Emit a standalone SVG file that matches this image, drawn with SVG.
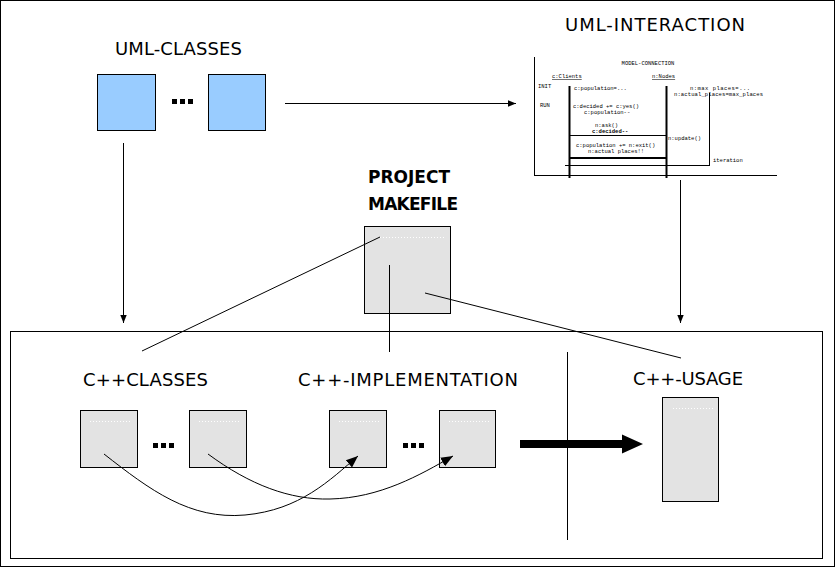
<svg xmlns="http://www.w3.org/2000/svg" width="836" height="568" viewBox="0 0 836 568">
<style>
.lbl{font-family:"DejaVu Sans","Open Sans",sans-serif;font-size:18px;fill:#000}
.bold{font-weight:bold;font-size:17px}
.blue{fill:#99ccff;stroke:#000;stroke-width:1}
.gray{fill:#e3e3e3;stroke:#000;stroke-width:1}
.ln{stroke:#000;stroke-width:1;fill:none}
.dots{stroke:#fff;stroke-width:1;stroke-dasharray:1 2}
.t{font-family:"Liberation Mono",monospace;font-size:5.5px;fill:#000}
.ell{fill:#000}
</style>
<defs>
<marker id="ah" viewBox="0 0 10 10" refX="10" refY="5" markerWidth="8" markerHeight="8" markerUnits="userSpaceOnUse" orient="auto">
<path d="M0,1 L10,5 L0,9 z" fill="#000"/>
</marker>
<marker id="ah2" viewBox="0 0 10 10" refX="10" refY="5" markerWidth="12" markerHeight="12" markerUnits="userSpaceOnUse" orient="auto">
<path d="M0,1 L10,5 L0,9 z" fill="#000"/>
</marker>
</defs>
<rect x="0.5" y="0.5" width="834" height="566" fill="#fff" stroke="#000"/>
<rect id="cpp-frame" x="10.5" y="331.5" width="812" height="227" fill="none" stroke="#000"/>
<line x1="567.5" y1="352" x2="567.5" y2="540" class="ln"/>

<g id="uml-classes">
<text class="lbl" x="115" y="55" textLength="127">UML-CLASSES</text>
<rect class="blue" x="97.5" y="74.5" width="58" height="56"/>
<rect class="blue" x="208.5" y="74.5" width="57" height="56"/>
<rect class="ell" x="172" y="99" width="5" height="5"/><rect class="ell" x="180" y="99" width="5" height="5"/><rect class="ell" x="188" y="99" width="5" height="5"/>
</g>

<g id="uml-interaction">
<text class="lbl" x="565" y="31" textLength="180">UML-INTERACTION</text>
<line x1="534.5" y1="57" x2="534.5" y2="176" class="ln"/>
<line x1="534" y1="175.5" x2="777" y2="175.5" class="ln"/>
<text class="t" x="648" y="65" text-anchor="middle">MODEL-CONNECTION</text>
<text class="t" x="552" y="78" text-decoration="underline">c:Clients</text>
<text class="t" x="652" y="78" text-decoration="underline">n:Nodes</text>
<text class="t" x="538" y="88">INIT</text>
<text class="t" x="540" y="107">RUN</text>
<line x1="569.5" y1="86" x2="569.5" y2="178" stroke="#000" stroke-width="2"/>
<line x1="666.5" y1="86" x2="666.5" y2="178" stroke="#000" stroke-width="2"/>
<line x1="709.5" y1="93" x2="709.5" y2="165" class="ln"/>
<text class="t" x="574" y="90">c:population=...</text>
<text class="t" x="690" y="90" textLength="60">n:max places=...</text>
<text class="t" x="674" y="96" textLength="89">n:actual_places=max_places</text>
<text class="t" x="573" y="108">c:decided += c:yes()</text>
<text class="t" x="584" y="114">c:population--</text>
<text class="t" x="595" y="127">n:ask()</text>
<text class="t" x="592" y="133" font-weight="bold">c:decided--</text>
<line x1="569" y1="135.5" x2="666" y2="135.5" class="ln"/>
<text class="t" x="668" y="140">n:update()</text>
<text class="t" x="576" y="147">c:population += n:exit()</text>
<text class="t" x="588" y="153">n:actual places!!</text>
<line x1="569" y1="158" x2="666" y2="158" stroke="#000" stroke-width="2"/>
<line x1="565" y1="165.5" x2="710" y2="165.5" class="ln"/>
<text class="t" x="713" y="162">iteration</text>
</g>

<g id="project-makefile">
<text class="lbl bold" x="368" y="183" textLength="82">PROJECT</text>
<text class="lbl bold" x="368" y="210" textLength="90">MAKEFILE</text>
<rect class="gray" x="364.5" y="226.5" width="86" height="87"/>
<line x1="380" y1="237.5" x2="446" y2="237.5" class="dots"/>
</g>

<g id="cpp-classes">
<text class="lbl" x="83" y="386" textLength="125">C++CLASSES</text>
<rect class="gray" x="80.5" y="410.5" width="57" height="57"/>
<line x1="90" y1="421.5" x2="132" y2="421.5" class="dots"/>
<rect class="gray" x="189.5" y="410.5" width="57" height="57"/>
<line x1="199" y1="421.5" x2="241" y2="421.5" class="dots"/>
<rect class="ell" x="153" y="443" width="5" height="5"/><rect class="ell" x="161" y="443" width="5" height="5"/><rect class="ell" x="169" y="443" width="5" height="5"/>
</g>

<g id="cpp-implementation">
<text class="lbl" x="298" y="386" textLength="220">C++-IMPLEMENTATION</text>
<rect class="gray" x="329.5" y="410.5" width="57" height="57"/>
<line x1="339" y1="421.5" x2="381" y2="421.5" class="dots"/>
<rect class="gray" x="439.5" y="410.5" width="56" height="57"/>
<line x1="449" y1="421.5" x2="490" y2="421.5" class="dots"/>
<rect class="ell" x="403" y="443" width="5" height="5"/><rect class="ell" x="411" y="443" width="5" height="5"/><rect class="ell" x="419" y="443" width="5" height="5"/>
</g>

<g id="cpp-usage">
<text class="lbl" x="633" y="385" textLength="110">C++-USAGE</text>
<rect class="gray" x="662.5" y="397.5" width="56" height="104"/>
<line x1="673" y1="408.5" x2="714" y2="408.5" class="dots"/>
</g>

<g id="connectors">
<line x1="285" y1="103.5" x2="516" y2="103.5" class="ln" marker-end="url(#ah)"/>
<line x1="123.5" y1="143" x2="123.5" y2="323" class="ln" marker-end="url(#ah)"/>
<line x1="680.5" y1="180" x2="680.5" y2="323" class="ln" marker-end="url(#ah)"/>
<line x1="380" y1="237" x2="142" y2="351" class="ln"/>
<line x1="389.5" y1="265" x2="389.5" y2="352" class="ln"/>
<line x1="425" y1="293" x2="681" y2="358" class="ln"/>
<path d="M104,454 C150,490 190,520 245,515 C300,510 330,480 358,456" class="ln" marker-end="url(#ah2)"/>
<path d="M208,454 C250,485 290,500 330,499 C380,498 420,475 453,456" class="ln" marker-end="url(#ah2)"/>
<path d="M520,440 H622 V434.5 L643,444 L622,453.5 V448 H520 z" fill="#000"/>
</g>
</svg>
